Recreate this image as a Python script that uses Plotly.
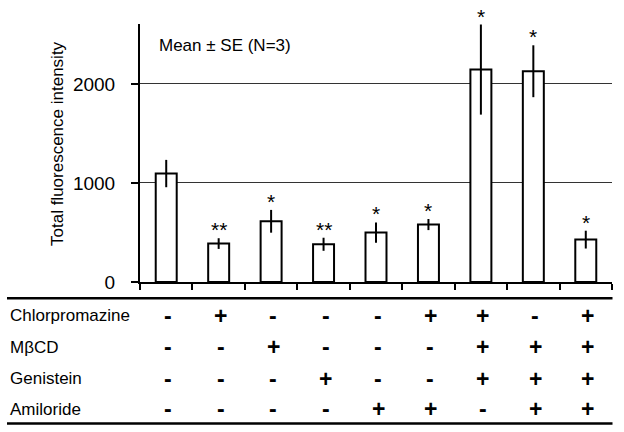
import plotly.graph_objects as go

# ---- data ----
positions = [0, 1, 2, 3, 4, 5, 6, 7, 8]
means = [1095, 388, 613, 381, 499, 580, 2145, 2128, 428]
errors = [138, 54, 115, 66, 103, 56, 455, 262, 90]
significance = ["", "**", "*", "**", "*", "*", "*", "*", "*"]

row_labels = ["Chlorpromazine", "MβCD", "Genistein", "Amiloride"]
chlorpromazine = ["-", "+", "-", "-", "-", "+", "+", "-", "+"]
mbcd = ["-", "-", "+", "-", "-", "-", "+", "+", "+"]
genistein = ["-", "-", "-", "+", "-", "-", "+", "+", "+"]
amiloride = ["-", "-", "-", "-", "+", "+", "-", "+", "+"]
rows = [chlorpromazine, mbcd, genistein, amiloride]

y_ticks = [0, 1000, 2000]
y_max = 2605
y_title = "Total fluorescence intensity"
note = "Mean ± SE (N=3)"

# ---- geometry helpers (pixel -> paper) ----
W, H = 624, 432
ML, MR, MT, MB = 140, 12, 24, 150
PW, PH = W - ML - MR, H - MT - MB
def px(x):
    return (x - ML) / PW
def py(y):
    return (H - MB - y) / PH

FONT = "Liberation Sans, Arial, sans-serif"

fig = go.Figure()
fig.add_trace(go.Bar(
    x=positions, y=means, width=0.4,
    marker=dict(color="white", line=dict(color="black", width=2)),
    error_y=dict(type="data", array=errors, color="black", thickness=2, width=0),
    cliponaxis=False, showlegend=False,
))

annotations = []
# significance stars
for xi, m, e, s in zip(positions, means, errors, significance):
    if s:
        annotations.append(dict(x=xi, y=m + e, xref="x", yref="y", text=s,
                                showarrow=False, yanchor="bottom", yshift=-5,
                                font=dict(size=21, color="black", family=FONT)))

# table
row_y = [315.5, 347, 378.5, 409]
for label, vals, ry in zip(row_labels, rows, row_y):
    annotations.append(dict(x=px(7.5), y=py(ry), xref="paper", yref="paper",
                            text=label, showarrow=False, xanchor="left", yanchor="middle",
                            font=dict(size=17, color="black", family=FONT)))
    for xi, v in zip(positions, vals):
        annotations.append(dict(x=xi, y=py(ry), xref="x", yref="paper",
                                text="<b>%s</b>" % v, showarrow=False, xshift=2,
                                xanchor="center", yanchor="middle",
                                font=dict(size=23, color="black", family=FONT)))

annotations.append(dict(x=px(157), y=py(45), xref="paper", yref="paper", text=note,
                        showarrow=False, xanchor="left", yanchor="middle",
                        font=dict(size=17, color="black", family=FONT)))
annotations.append(dict(x=px(57), y=py(144), xref="paper", yref="paper", text=y_title,
                        showarrow=False, textangle=-90, xanchor="center", yanchor="middle",
                        font=dict(size=17, color="black", family=FONT)))

shapes = [
    dict(type="line", xref="paper", yref="paper", x0=px(7), x1=px(612.5),
         y0=py(298.3), y1=py(298.3), line=dict(color="black", width=2.5)),
    dict(type="line", xref="paper", yref="paper", x0=px(7), x1=px(612.5),
         y0=py(423.5), y1=py(423.5), line=dict(color="black", width=2.5)),
]

fig.update_layout(
    width=W, height=H,
    margin=dict(l=ML, r=MR, t=MT, b=MB, pad=0),
    paper_bgcolor="white", plot_bgcolor="white",
    font=dict(family=FONT, color="black"),
    annotations=annotations, shapes=shapes,
    bargap=0.6,
)
fig.update_xaxes(
    range=[-0.5, 8.5], tickvals=[p - 0.5 for p in positions] + [8.5],
    showticklabels=False, ticks="outside", ticklen=6, tickwidth=1.5, tickcolor="black",
    showline=True, linewidth=2, linecolor="black", showgrid=False, zeroline=False,
)
fig.update_yaxes(
    range=[0, y_max], tickvals=y_ticks, ticktext=[str(t) for t in y_ticks],
    ticks="outside", ticklen=7, tickwidth=1.5, tickcolor="black",
    tickfont=dict(size=19, color="black", family=FONT), ticklabelstandoff=12,
    showline=True, linewidth=2, linecolor="black",
    showgrid=True, gridcolor="#333333", gridwidth=1, zeroline=False,
)

fig.write_html("out.html", config={"displayModeBar": False},
               post_script="document.body.style.margin='0';")
